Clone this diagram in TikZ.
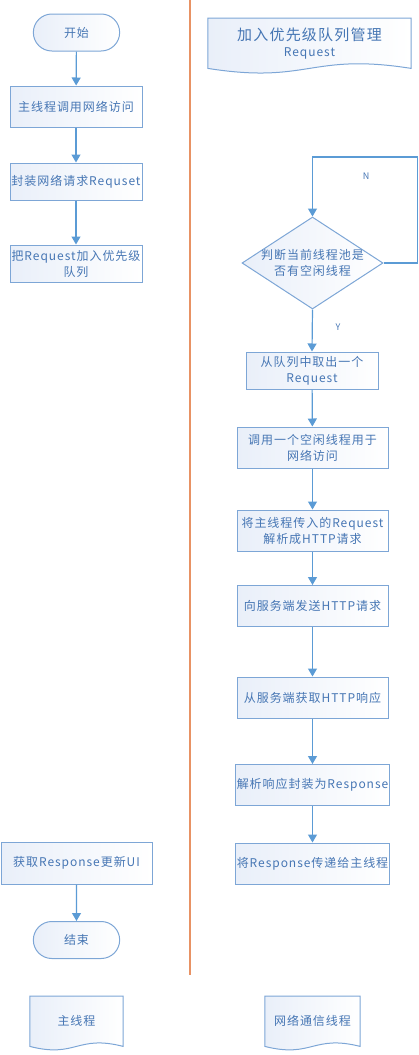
\documentclass[tikz,border=0pt]{standalone}
\usepackage{fontspec}
\setmainfont{Noto Sans CJK SC}[LetterSpace=8]
\usetikzlibrary{shapes.geometric, shapes.misc, arrows.meta, positioning, backgrounds}

\definecolor{lineblue}{RGB}{91,155,213}
\definecolor{boxdraw}{RGB}{125,166,214}
\definecolor{textblue}{RGB}{70,118,180}
\definecolor{fillblue}{RGB}{233,239,249}
\definecolor{laneorange}{RGB}{232,146,100}

\begin{document}
\begin{tikzpicture}[
    x=1pt, y=-1pt,
    >={Triangle[width=9pt,length=8pt]},
    font=\fontsize{12}{16}\selectfont,
    every node/.style={text=textblue},
    proc/.style     ={draw=boxdraw, line width=1pt, left color=fillblue, right color=white,
                      align=center, inner sep=1pt, minimum width=151pt, minimum height=41pt},
    narrow/.style   ={proc, minimum width=132pt},
    term/.style     ={rounded rectangle, draw=boxdraw, line width=1pt, left color=fillblue,
                      right color=white, minimum width=93pt, minimum height=37pt},
    decision/.style ={diamond, draw=boxdraw, line width=1pt, left color=fillblue, right color=white,
                      inner sep=0pt, minimum width=141pt, minimum height=92pt},
    doc/.style      ={rectangle, align=center, inner sep=0pt, minimum height=50pt},
    docline/.style  ={draw=boxdraw, line width=1pt, left color=fillblue, right color=white},
    flow/.style     ={->, lineblue, line width=1.2pt},
    lane/.style     ={laneorange, line width=1.2pt},
    flag/.style     ={font=\fontsize{9}{10}\selectfont}
]
\useasboundingbox (0,0) rectangle (419,1055);

% lane divider
\draw[lane] (190,0) -- (190,975);

% Left lane: main thread
\node[term] (start) at (76.5,32.5) {开始};
\node[narrow] (call) at (76,106.5) {主线程调用网络访问};
\node[narrow, minimum height=37pt] (wrap) at (76,181.5) {封装网络请求Requset};
\node[narrow, minimum height=37pt] (enq) at (76,263.5) {把Request加入优先级\\队列};
\node[proc, minimum height=42pt] (upd) at (76.5,863) {获取Response更新UI};
\node[term] (stop) at (76.5,940) {结束};

% Right lane: network thread
\node[doc, anchor=north, minimum width=203pt] (hdr) at (309.5,18)
    {{\fontsize{15}{19}\selectfont 加入优先级队列管理}\\{\fontsize{12}{14}\selectfont Request}};
\node[decision] (chk) at (312.5,263) {};
\node[align=center] (chktxt) at (chk) {判断当前线程池是\\否有空闲线程};
\node[narrow, minimum height=37pt] (deq) at (312,370.5) {从队列中取出一个\\Request};
\node[proc] (pick) at (312.5,447.5) {调用一个空闲线程用于\\网络访问};
\node[proc] (parse) at (312.5,530.5) {将主线程传入的Request\\解析成HTTP请求};
\node[proc] (send) at (312.5,606) {向服务端发送HTTP请求};
\node[proc] (recv) at (312.5,697.5) {从服务端获取HTTP响应};
\node[proc] (pack) at (312.5,785) {解析响应封装为Response};
\node[proc] (back) at (312.5,863.5) {将Response传递给主线程};

% lane titles
\node[doc, anchor=north, minimum width=93pt] (mainlbl) at (76.5,996) {主线程};
\node[doc, anchor=north, minimum width=95pt] (netlbl) at (312.5,996) {网络通信线程};

% document outlines behind their texts
\begin{scope}[on background layer]
\draw[docline] (hdr.north west) -- (hdr.north east) -- (hdr.south east)
    .. controls +(-101.5,-16) and +(101.5,16) .. (hdr.south west) -- cycle;
\draw[docline] (mainlbl.north west) -- (mainlbl.north east) -- (mainlbl.south east)
    .. controls +(-46.5,-12) and +(46.5,12) .. (mainlbl.south west) -- cycle;
\draw[docline] (netlbl.north west) -- (netlbl.north east) -- (netlbl.south east)
    .. controls +(-47.5,-12) and +(47.5,12) .. (netlbl.south west) -- cycle;
\end{scope}

% --- Arrows, main thread ---
\draw[flow] (start) -- (call);
\draw[flow] (call) -- (wrap);
\draw[flow] (wrap) -- (enq);
\draw[flow] (upd) -- (stop);

% --- Arrows, network thread ---
\draw[flow] (chk.east) -| ++(34,-106) -| (chk.north);
\node[flag] (nlbl) at (366,176) {N};
\draw[flow] (chk.south) -- (deq.north);
\node[flag] (ylbl) at (338,327) {Y};
\draw[flow] (deq) -- (pick);
\draw[flow] (pick) -- (parse);
\draw[flow] (parse) -- (send);
\draw[flow] (send) -- (recv);
\draw[flow] (recv) -- (pack);
\draw[flow] (pack) -- (back);

\end{tikzpicture}
\end{document}
